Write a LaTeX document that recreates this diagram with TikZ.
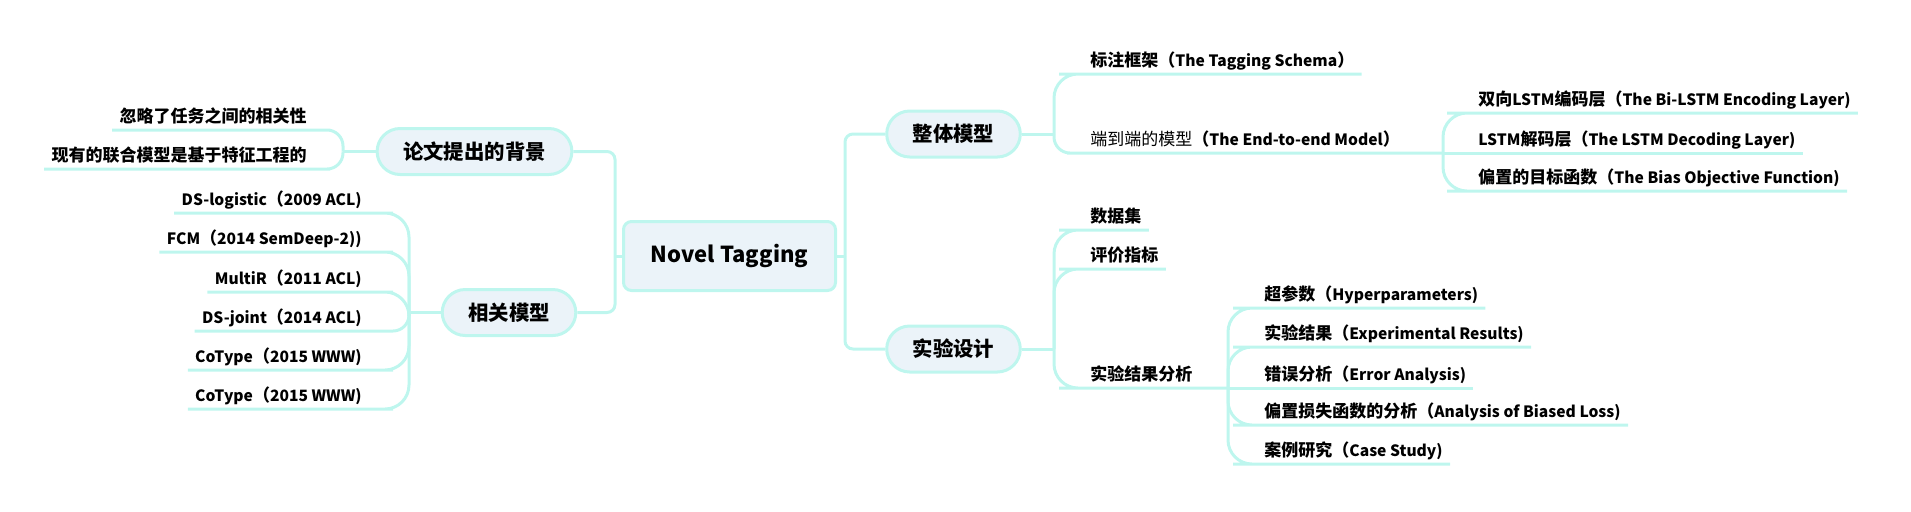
\documentclass[tikz,border=0pt]{standalone}
\usepackage{fontspec}
\setmainfont{Noto Sans CJK SC}
\usetikzlibrary{calc}
\definecolor{lnc}{RGB}{190,246,238}
\definecolor{nfill}{RGB}{235,243,249}
\newcommand\latn[1]{{\fontsize{7.8}{9}\selectfont #1}}
\begin{document}
\begin{tikzpicture}[x=0.5pt,y=-0.5pt,
  conn/.style={draw=lnc, line width=1.5pt},
  rootbox/.style={draw=lnc, line width=1.5pt, fill=nfill, rounded corners=4pt,
    minimum width=106pt, minimum height=34.5pt, inner sep=0pt,
    font=\bfseries\fontsize{11}{12}\selectfont},
  branchbox/.style={draw=lnc, line width=1.5pt, fill=nfill, rounded corners=11.5pt,
    minimum height=23pt, inner xsep=13pt, inner ysep=0pt,
    font=\bfseries\fontsize{10.2}{11}\selectfont},
  leafbox/.style={inner xsep=3.5pt, inner ysep=0pt, text depth=3.5pt,
    font=\bfseries\fontsize{8.5}{9}\selectfont},
  bigr/.style={rounded corners=12pt},
  smallr/.style={rounded corners=8pt},
]
\useasboundingbox (0,0) rectangle (1911,511);

% root and branches
\node[rootbox] (root) at (729.5,256) {Novel Tagging};
\node[branchbox] (bg) at (474.5,151.5) {论文提出的背景};
\node[branchbox] (rel) at (509,312.5) {相关模型};
\node[branchbox] (whole) at (953.5,134) {整体模型};
\node[branchbox] (exp) at (953.5,349) {实验设计};

\coordinate (jL) at (615,256);
\coordinate (jR) at (845,256);
\draw[conn] (root.west) -- (jL);
\draw[conn, rounded corners=4pt] (jL) |- (bg.east);
\draw[conn, rounded corners=4pt] (jL) |- (rel.east);
\draw[conn] (root.east) -- (jR);
\draw[conn, rounded corners=4pt] (jR) |- (whole.west);
\draw[conn, rounded corners=4pt] (jR) |- (exp.west);

% background children
\coordinate (jBg) at (343,151.5);
\draw[conn] (bg.west) -- (jBg);
\node[leafbox, anchor=south east] (c1) at (314,130) {忽略了任务之间的相关性};
\node[leafbox, anchor=south east] (c2) at (314,169) {现有的联合模型是基于特征工程的};
\draw[conn, smallr] (jBg) |- (c1.south east) -- (c1.south west);
\draw[conn, smallr] (jBg) |- (c2.south east) -- (c2.south west);

% related models
\coordinate (jRel) at (409,312.5);
\draw[conn] (rel.west) -- (jRel);
\node[leafbox, anchor=south east] (m1) at (369,213) {\latn{DS-logistic}（\latn{2009 ACL)}};
\node[leafbox, anchor=south east] (m2) at (369,252) {\latn{FCM}（\latn{2014 SemDeep-2))}};
\node[leafbox, anchor=south east] (m3) at (369,292) {\latn{MultiR}（\latn{2011 ACL)}};
\node[leafbox, anchor=south east] (m4) at (369,331) {\latn{DS-joint}（\latn{2014 ACL)}};
\node[leafbox, anchor=south east] (m5) at (369,370) {\latn{CoType}（\latn{2015 WWW)}};
\node[leafbox, anchor=south east] (m6) at (369,409) {\latn{CoType}（\latn{2015 WWW)}};
\draw[conn, bigr] (jRel) |- (m1.south east) -- (m1.south west);
\draw[conn, bigr] (jRel) |- (m2.south east) -- (m2.south west);
\draw[conn, bigr] (jRel) |- (m3.south east) -- (m3.south west);
\draw[conn, smallr] (jRel) |- (m4.south east) -- (m4.south west);
\draw[conn, bigr] (jRel) |- (m5.south east) -- (m5.south west);
\draw[conn, bigr] (jRel) |- (m6.south east) -- (m6.south west);

% whole model
\coordinate (jWhole) at (1054,134);
\draw[conn] (whole.east) -- (jWhole);
\node[leafbox, anchor=south west] (t1) at (1083,74) {标注框架（\latn{The Tagging Schema}）};
\node[leafbox, anchor=south west] (t2) at (1083,153) {{\mdseries 端到端的模型}（\latn{The End-to-end Model}）};
\coordinate (jT2) at (1443,153);
\draw[conn, bigr] (jWhole) |- (t1.south west) -- (t1.south east);
\draw[conn, smallr] (jWhole) |- (t2.south west) -- (jT2);
\node[leafbox, anchor=south west] (l1) at (1471,113) {双向\latn{LSTM}编码层（\latn{The Bi-LSTM Encoding Layer)}};
\node[leafbox, anchor=south west] (l2) at (1471,153) {\latn{LSTM}解码层（\latn{The LSTM Decoding Layer)}};
\node[leafbox, anchor=south west] (l3) at (1471,191) {偏置的目标函数（\latn{The Bias Objective Function)}};
\draw[conn, bigr] (jT2) |- (l1.south west) -- (l1.south east);
\draw[conn] (jT2) -- (l2.south west) -- (l2.south east);
\draw[conn, bigr] (jT2) |- (l3.south west) -- (l3.south east);

% experiment design
\coordinate (jExp) at (1054,349);
\draw[conn] (exp.east) -- (jExp);
\node[leafbox, anchor=south west] (e1) at (1083,230) {数据集};
\node[leafbox, anchor=south west] (e2) at (1083,269) {评价指标};
\node[leafbox, anchor=south west] (e3) at (1083,388) {实验结果分析};
\coordinate (jE3) at (1228,388);
\draw[conn, bigr] (jExp) |- (e1.south west) -- (e1.south east);
\draw[conn, bigr] (jExp) |- (e2.south west) -- (e2.south east);
\draw[conn, bigr] (jExp) |- (e3.south west) -- (jE3);
\node[leafbox, anchor=south west] (r1) at (1257,308) {超参数（\latn{Hyperparameters)}};
\node[leafbox, anchor=south west] (r2) at (1257,347) {实验结果（\latn{Experimental Results)}};
\node[leafbox, anchor=south west] (r3) at (1257,388) {错误分析（\latn{Error Analysis)}};
\node[leafbox, anchor=south west] (r4) at (1257,425) {偏置损失函数的分析（\latn{Analysis of Biased Loss)}};
\node[leafbox, anchor=south west] (r5) at (1257,464) {案例研究（\latn{Case Study)}};
\draw[conn, bigr] (jE3) |- (r1.south west) -- (r1.south east);
\draw[conn, bigr] (jE3) |- (r2.south west) -- (r2.south east);
\draw[conn] (jE3) -- (r3.south west) -- (r3.south east);
\draw[conn, bigr] (jE3) |- (r4.south west) -- (r4.south east);
\draw[conn, bigr] (jE3) |- (r5.south west) -- (r5.south east);
\end{tikzpicture}
\end{document}
